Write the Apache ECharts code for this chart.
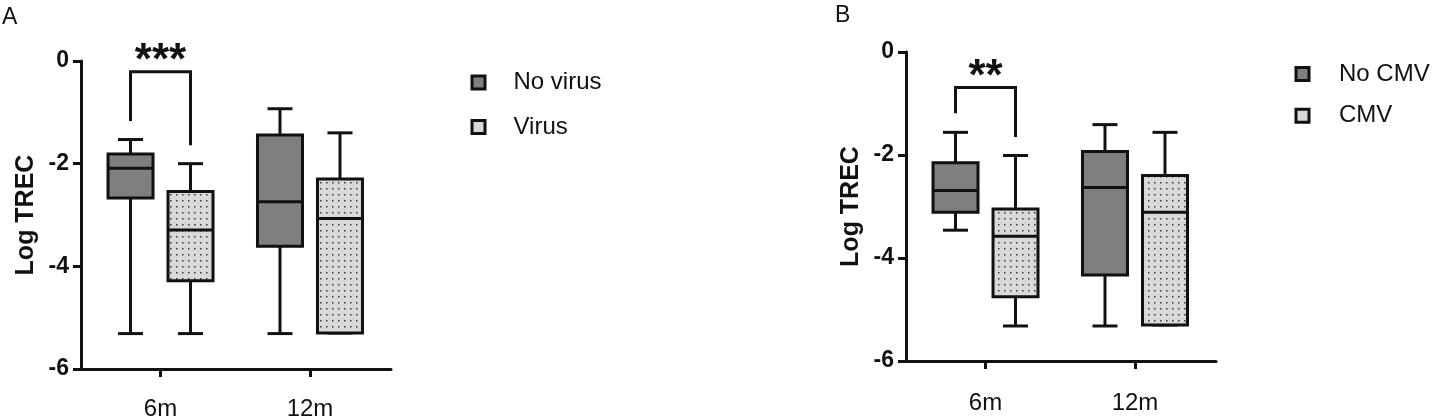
<!DOCTYPE html>
<html><head><meta charset="utf-8">
<script src="https://cdn.jsdelivr.net/npm/echarts@6/dist/echarts.min.js"></script>
<style>html,body{margin:0;padding:0;background:#fff}#c{width:1432px;height:417px}</style>
</head><body><div id="c"></div>
<script>
// ---- data ----
const categories = ['6m', '12m'];
const yTicks = [0, -2, -4, -6];
// each box: [min, Q1, median, Q3, max]  (Log TREC)
const noVirus = [[-5.31, -2.67, -2.09, -1.81, -1.53], [-5.31, -3.61, -2.74, -1.44, -0.93]];
const virus   = [[-5.31, -4.28, -3.29, -2.54, -2.00], [-5.30, -5.30, -3.07, -2.30, -1.40]];
const noCMV   = [[-3.46, -3.11, -2.69, -2.15, -1.56], [-5.32, -4.33, -2.63, -1.93, -1.41]];
const cmv     = [[-5.32, -4.75, -3.58, -3.05, -2.01], [-5.30, -5.30, -3.11, -2.40, -1.56]];
// significance brackets: category index, bracket top, left leg end, right leg end
const sigA = [{cat: 0, top: -0.21, leftEnd: -1.17, rightEnd: -1.64, label: '***'}];
const sigB = [{cat: 0, top: -0.69, leftEnd: -1.19, rightEnd: -1.65, label: '**'}];

// ---- styling ----
const FONT = '"Liberation Sans", Arial, Helvetica, sans-serif';
const INK = '#111';
const DARK = '#7f7f7f';
const LIGHT = '#d9d9d9';
const BOX_W = 45, CAP_W = 25, OFF = 30, LW = 3;

function dotPattern() {
  const c = document.createElement('canvas');
  c.width = 6; c.height = 6;
  const g = c.getContext('2d');
  g.fillStyle = LIGHT; g.fillRect(0, 0, 6, 6);
  g.fillStyle = '#3a3a3a'; g.fillRect(2, 2, 1.5, 1.5);
  return {image: c, repeat: 'repeat'};
}
const DOTS = dotPattern();

function boxRender(side, fill) {
  return function (params, api) {
    const pos = api.value(0);
    const cx = api.coord([pos, 0])[0] + side * OFF;
    const y = i => api.coord([pos, api.value(i)])[1];
    const yMin = y(1), yQ1 = y(2), yMed = y(3), yQ3 = y(4), yMax = y(5);
    const ls = {stroke: INK, lineWidth: LW, fill: null};
    return {type: 'group', children: [
      {type: 'line', shape: {x1: cx, y1: yQ3, x2: cx, y2: yMax}, style: ls},
      {type: 'line', shape: {x1: cx - CAP_W / 2, y1: yMax, x2: cx + CAP_W / 2, y2: yMax}, style: ls},
      {type: 'line', shape: {x1: cx, y1: yQ1, x2: cx, y2: yMin}, style: ls},
      {type: 'line', shape: {x1: cx - CAP_W / 2, y1: yMin, x2: cx + CAP_W / 2, y2: yMin}, style: ls},
      {type: 'rect', shape: {x: cx - BOX_W / 2, y: yQ3, width: BOX_W, height: yQ1 - yQ3},
        style: {fill: fill, stroke: INK, lineWidth: LW}},
      {type: 'line', shape: {x1: cx - BOX_W / 2, y1: yMed, x2: cx + BOX_W / 2, y2: yMed}, style: ls}
    ]};
  };
}

function sigRender(list) {
  return function (params, api) {
    const pos = api.value(0);
    const xc = api.coord([pos, 0])[0];
    const x1 = xc - OFF, x2 = xc + OFF;
    const yT = api.coord([pos, api.value(1)])[1];
    const yL = api.coord([pos, api.value(2)])[1];
    const yR = api.coord([pos, api.value(3)])[1];
    return {type: 'group', children: [
      {type: 'polyline', shape: {points: [[x1, yL], [x1, yT], [x2, yT], [x2, yR]]},
        style: {stroke: INK, lineWidth: LW, fill: null}},
      {type: 'text', x: xc, y: yT - 10,
        style: {text: list[params.dataIndex].label, fill: INK, font: 'bold 44px ' + FONT,
          align: 'center', verticalAlign: 'middle'}}
    ]};
  };
}

const toData = arr => arr.map((v, j) => [j + 1].concat(v));
const toSig = arr => arr.map(s => [s.cat + 1, s.top, s.leftEnd, s.rightEnd]);

function xAxis(grid, margin) {
  return {
    gridIndex: grid, type: 'value', min: 0.468, max: 2.542,
    axisLine: {show: true, onZero: false, lineStyle: {color: INK, width: LW}},
    axisTick: {show: true, customValues: [1, 2], length: 8, lineStyle: {color: INK, width: LW}},
    axisLabel: {show: true, customValues: [1, 2], formatter: v => categories[Math.round(v) - 1],
      fontSize: 24, color: INK, fontFamily: FONT, margin: margin},
    splitLine: {show: false}
  };
}
function yAxis(grid) {
  return {
    gridIndex: grid, type: 'value', min: yTicks[yTicks.length - 1], max: yTicks[0], interval: 2,
    axisLine: {show: true, onZero: false, lineStyle: {color: INK, width: LW}},
    axisTick: {show: true, length: 8, lineStyle: {color: INK, width: LW}},
    axisLabel: {fontSize: 23, fontWeight: 'bold', color: INK, fontFamily: FONT, margin: 12},
    splitLine: {show: false},
    name: 'Log TREC', nameLocation: 'middle', nameRotate: 90, nameGap: 42,
    nameTextStyle: {fontSize: 25, fontWeight: 'bold', color: INK, fontFamily: FONT}
  };
}
function legend(names, left, top, gap, pad) {
  return {
    orient: 'vertical', left: left, top: top, padding: 0, itemWidth: 13, itemHeight: 13, itemGap: gap,
    icon: 'rect', selectedMode: false,
    data: [{name: names[0], itemStyle: {color: DARK}}, {name: names[1], itemStyle: {color: LIGHT}}],
    itemStyle: {borderColor: INK, borderWidth: 3},
    textStyle: {fontSize: 24, color: INK, fontFamily: FONT, padding: [0, 0, 0, pad]}
  };
}
function boxSeries(name, arr, grid, side, fill, color) {
  return {type: 'custom', name: name, xAxisIndex: grid, yAxisIndex: grid,
    itemStyle: {color: color}, renderItem: boxRender(side, fill), data: toData(arr),
    encode: {x: 0, y: [1, 2, 3, 4, 5]}, silent: true};
}

const chart = echarts.init(document.getElementById('c'));
chart.setOption({
  animation: false,
  backgroundColor: '#fff',
  textStyle: {fontFamily: FONT},
  title: [
    {text: 'A', left: 2, top: 6, padding: 0, textStyle: {fontSize: 23, fontWeight: 'normal', color: INK, fontFamily: FONT}},
    {text: 'B', left: 835, top: 4, padding: 0, textStyle: {fontSize: 23, fontWeight: 'normal', color: INK, fontFamily: FONT}}
  ],
  grid: [
    {left: 81, top: 61, width: 310, height: 308, outerBoundsMode: 'none', containLabel: false},
    {left: 906, top: 52, width: 310, height: 309, outerBoundsMode: 'none', containLabel: false}
  ],
  xAxis: [xAxis(0, 28), xAxis(1, 30)],
  yAxis: [yAxis(0), yAxis(1)],
  legend: [
    legend(['No virus', 'Virus'], 470.5, 70.5, 20.5, 23.5),
    legend(['No CMV', 'CMV'], 1294.5, 62, 17.7, 25)
  ],
  series: [
    boxSeries('No virus', noVirus, 0, -1, DARK, DARK),
    boxSeries('Virus', virus, 0, 1, DOTS, LIGHT),
    boxSeries('No CMV', noCMV, 1, -1, DARK, DARK),
    boxSeries('CMV', cmv, 1, 1, DOTS, LIGHT),
    {type: 'custom', xAxisIndex: 0, yAxisIndex: 0, renderItem: sigRender(sigA), data: toSig(sigA),
      encode: {x: 0, y: [1, 2, 3]}, silent: true},
    {type: 'custom', xAxisIndex: 1, yAxisIndex: 1, renderItem: sigRender(sigB), data: toSig(sigB),
      encode: {x: 0, y: [1, 2, 3]}, silent: true}
  ]
});
</script>
</body></html>
